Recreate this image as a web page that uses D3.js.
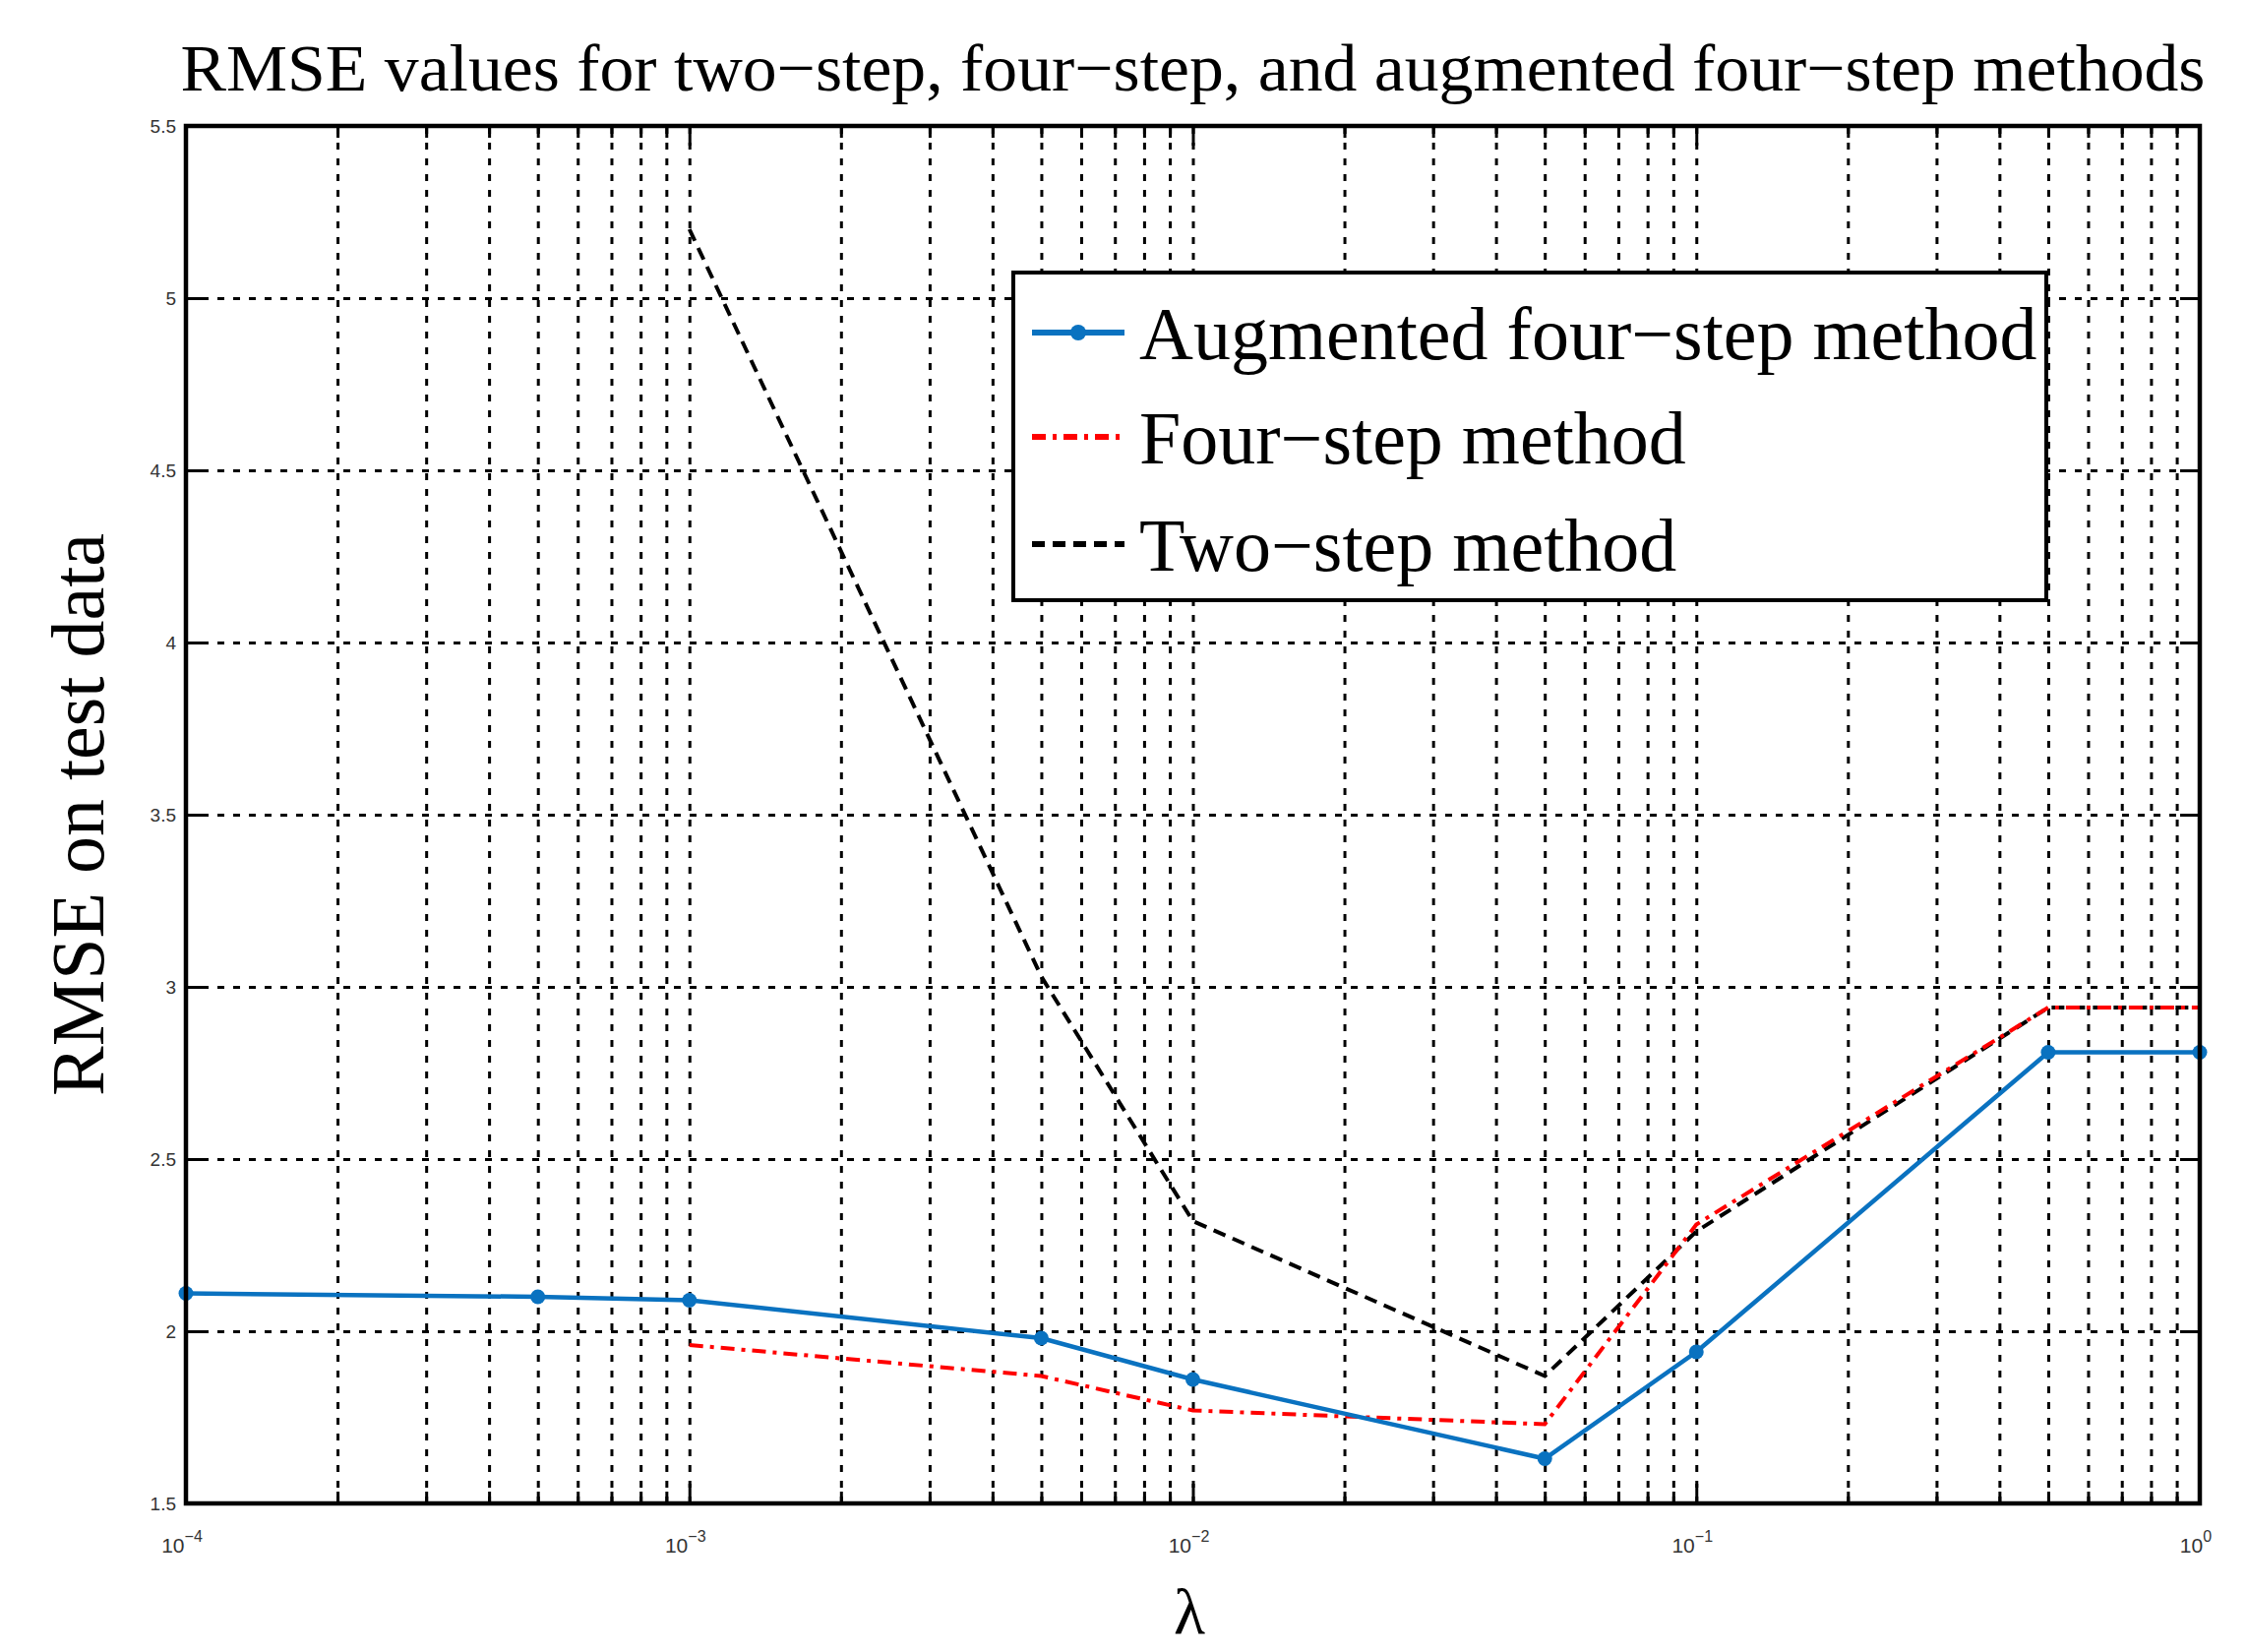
<!DOCTYPE html>
<html>
<head>
<meta charset="utf-8">
<script src="https://cdn.jsdelivr.net/npm/d3@7"></script>
<style>
  body { margin: 0; background: #fff; }
  svg { display: block; }
  .tick-label { font-family: "Liberation Sans", Arial, sans-serif; font-size: 19px; fill: #333; }
  .serif { font-family: "Liberation Serif", "Times New Roman", serif; fill: #000; }
</style>
</head>
<body>
<svg id="chart" width="2284" height="1679"></svg>
<script>
// values
var lambdas = [1e-4, 5e-4, 1e-3, 5e-3, 1e-2, 5e-2, 1e-1, 5e-1, 1];
var augmentedRmse = [2.11, 2.10, 2.09, 1.98, 1.86, 1.63, 1.94, 2.81, 2.81];
var stepLambdas = [1e-3, 5e-3, 1e-2, 5e-2, 1e-1, 5e-1, 1];
var fourStepRmse = [1.96, 1.87, 1.77, 1.73, 2.31, 2.94, 2.94];
var twoStepRmse = [5.20, 3.03, 2.32, 1.87, 2.29, 2.94, 2.94];
var yTicks = [1.5, 2, 2.5, 3, 3.5, 4, 4.5, 5, 5.5];
var xExponents = [-4, -3, -2, -1, 0];
var legendLabels = ['Augmented four\u2212step method', 'Four\u2212step method', 'Two\u2212step method'];
var titleText = 'RMSE values for two\u2212step, four\u2212step, and augmented four\u2212step methods';

var plotLeft = 189, plotRight = 2236, plotTop = 128, plotBottom = 1528;
var plotH = plotBottom - plotTop;

var svg = d3.select('#chart');
var graph = svg.append('g');

var xScale = d3.scaleLog().domain([1e-4, 1]).range([plotLeft, plotRight]);
var yScale = d3.scaleLinear().domain([1.5, 5.5]).range([plotBottom, plotTop]);

var majorX = xExponents.map(function (e) { return Math.pow(10, e); });
var minorX = xScale.ticks().filter(function (d) { return majorX.indexOf(d) < 0; });

function styleTicks(g, color, width, dash) {
    g.select('.domain').remove();
    g.selectAll('.tick line')
        .attr('stroke', color)
        .attr('stroke-width', width)
        .attr('stroke-dasharray', dash);
}

function drawGrid() {
    // dotted grid on every major and minor decade tick
    graph.append('g')
        .attr('transform', 'translate(0,' + plotBottom + ')')
        .call(d3.axisBottom(xScale).tickValues(xScale.ticks()).tickSize(-plotH).tickFormat(''))
        .call(styleTicks, '#000', 3, '7,9');
    graph.append('g')
        .attr('transform', 'translate(' + plotLeft + ',0)')
        .call(d3.axisLeft(yScale).tickValues(yTicks.slice(1, -1)).tickSize(-(plotRight - plotLeft)).tickFormat(''))
        .call(styleTicks, '#000', 3, '7,9');
}

function drawBox() {
    var len = 20, minorLen = 12;
    // inward ticks on all four sides
    graph.append('g').attr('transform', 'translate(0,' + plotBottom + ')')
        .call(d3.axisBottom(xScale).tickValues(majorX).tickSize(-len).tickFormat(''))
        .call(styleTicks, '#000', 3, null);
    graph.append('g').attr('transform', 'translate(0,' + plotBottom + ')')
        .call(d3.axisBottom(xScale).tickValues(minorX).tickSize(-minorLen).tickFormat(''))
        .call(styleTicks, '#000', 3, null);
    graph.append('g').attr('transform', 'translate(0,' + plotTop + ')')
        .call(d3.axisTop(xScale).tickValues(majorX).tickSize(-len).tickFormat(''))
        .call(styleTicks, '#000', 3, null);
    graph.append('g').attr('transform', 'translate(0,' + plotTop + ')')
        .call(d3.axisTop(xScale).tickValues(minorX).tickSize(-minorLen).tickFormat(''))
        .call(styleTicks, '#000', 3, null);
    graph.append('g').attr('transform', 'translate(' + plotLeft + ',0)')
        .call(d3.axisLeft(yScale).tickValues(yTicks).tickSize(-len).tickFormat(''))
        .call(styleTicks, '#000', 3, null);
    graph.append('g').attr('transform', 'translate(' + plotRight + ',0)')
        .call(d3.axisRight(yScale).tickValues(yTicks).tickSize(-len).tickFormat(''))
        .call(styleTicks, '#000', 3, null);

    graph.append('rect')
        .attr('x', plotLeft).attr('y', plotTop)
        .attr('width', plotRight - plotLeft).attr('height', plotH)
        .attr('fill', 'none').attr('stroke', '#000').attr('stroke-width', 4.5);

    // tick labels
    graph.append('g').selectAll('text')
        .data(yTicks).enter()
        .append('text')
        .attr('class', 'tick-label')
        .attr('x', plotLeft - 10)
        .attr('y', function (d) { return yScale(d); })
        .attr('dy', '0.35em')
        .attr('text-anchor', 'end')
        .text(function (d) { return String(d); });

    var xl = graph.append('g').selectAll('text')
        .data(xExponents).enter()
        .append('text')
        .attr('class', 'tick-label')
        .style('font-size', '21px')
        .attr('x', function (d) { return xScale(Math.pow(10, d)) - 4; })
        .attr('y', plotBottom + 50)
        .attr('text-anchor', 'middle');
    xl.append('tspan').text('10');
    xl.append('tspan')
        .attr('dy', -11)
        .style('font-size', '16px')
        .text(function (d) { return d < 0 ? '\u2212' + (-d) : String(d); });
}

function drawLines() {
    var line = d3.line()
        .x(function (d) { return xScale(d[0]); })
        .y(function (d) { return yScale(d[1]); });

    var twoStep = d3.zip(stepLambdas, twoStepRmse);
    var fourStep = d3.zip(stepLambdas, fourStepRmse);
    var augmented = d3.zip(lambdas, augmentedRmse);

    graph.append('path').datum(twoStep)
        .attr('d', line)
        .attr('fill', 'none').attr('stroke', '#000')
        .attr('stroke-width', 4).attr('stroke-dasharray', '13,8');
    graph.append('path').datum(fourStep)
        .attr('d', line)
        .attr('fill', 'none').attr('stroke', '#ff0000')
        .attr('stroke-width', 4).attr('stroke-dasharray', '14,7,4,7');
    graph.append('path').datum(augmented)
        .attr('d', line)
        .attr('fill', 'none').attr('stroke', '#0a72c0')
        .attr('stroke-width', 4.5);
    graph.append('g').selectAll('circle')
        .data(augmented).enter()
        .append('circle')
        .attr('cx', function (d) { return xScale(d[0]); })
        .attr('cy', function (d) { return yScale(d[1]); })
        .attr('r', 7.5)
        .attr('fill', '#0a72c0');
}

function drawLegend() {
    var lx = 1030, ly = 277, lw = 1050, lh = 333;
    var legend = graph.append('g');
    legend.append('rect')
        .attr('x', lx).attr('y', ly).attr('width', lw).attr('height', lh)
        .attr('fill', '#fff').attr('stroke', '#000').attr('stroke-width', 4);

    var rowY = [338, 444, 553];
    var styles = [
        { color: '#0a72c0', dash: null, width: 6 },
        { color: '#ff0000', dash: '14,7,4,7', width: 6 },
        { color: '#000', dash: '13,8', width: 6 }
    ];
    var rows = legend.selectAll('g.row')
        .data(legendLabels).enter()
        .append('g').attr('class', 'row');
    rows.append('line')
        .attr('x1', 1049).attr('x2', 1143)
        .attr('y1', function (d, i) { return rowY[i]; })
        .attr('y2', function (d, i) { return rowY[i]; })
        .attr('stroke', function (d, i) { return styles[i].color; })
        .attr('stroke-width', function (d, i) { return styles[i].width; })
        .attr('stroke-dasharray', function (d, i) { return styles[i].dash; });
    rows.filter(function (d, i) { return i == 0; })
        .append('circle')
        .attr('cx', 1096).attr('cy', rowY[0]).attr('r', 8)
        .attr('fill', '#0a72c0');
    rows.append('text')
        .attr('class', 'serif')
        .attr('x', 1158)
        .attr('y', function (d, i) { return rowY[i] + 27; })
        .style('font-size', '76px')
        .text(function (d) { return d; });
}

function drawLabels() {
    svg.append('text')
        .attr('class', 'serif')
        .attr('x', (plotLeft + plotRight) / 2)
        .attr('y', 92)
        .attr('text-anchor', 'middle')
        .attr('textLength', 2058)
        .attr('lengthAdjust', 'spacingAndGlyphs')
        .style('font-size', '68px')
        .text(titleText);
    svg.append('text')
        .attr('class', 'serif')
        .attr('transform', 'translate(105,' + ((plotTop + plotBottom) / 2) + ') rotate(-90)')
        .attr('text-anchor', 'middle')
        .style('font-size', '76px')
        .text('RMSE on test data');
    svg.append('text')
        .attr('class', 'serif')
        .attr('x', 1209)
        .attr('y', 1660)
        .attr('text-anchor', 'middle')
        .style('font-size', '66px')
        .text('\u03bb');
}

drawGrid();
drawLines();
drawBox();
drawLegend();
drawLabels();
</script>
</body>
</html>
